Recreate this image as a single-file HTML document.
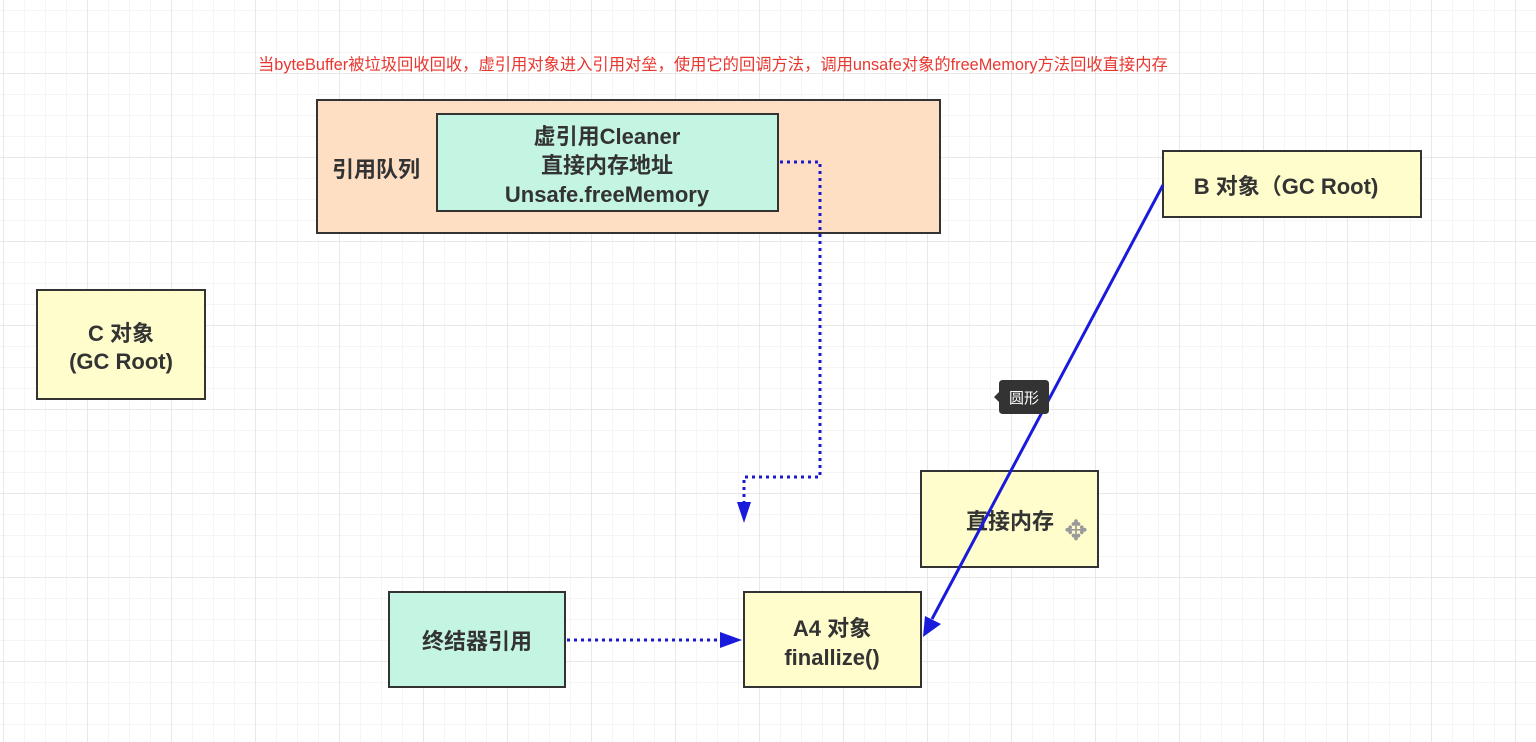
<!DOCTYPE html>
<html><head><meta charset="utf-8"><style>
body{margin:0;width:1536px;height:742px;overflow:hidden;background:#fff;font-family:"Liberation Sans","Noto Sans CJK SC",sans-serif;}
</style></head><body>
<svg width="1536" height="742" xmlns="http://www.w3.org/2000/svg" style="position:absolute;left:0;top:0">
<defs>
<pattern id="mi" x="3" y="10" width="21" height="21" patternUnits="userSpaceOnUse"><path d="M0 0H21M0 0V21" stroke="#ebebeb" stroke-width="1" fill="none"/></pattern>
<pattern id="ma" x="3" y="73" width="84" height="84" patternUnits="userSpaceOnUse"><path d="M0 0H84M0 0V84" stroke="#e0e0e0" stroke-width="1.5" fill="none"/></pattern>
</defs>
<rect width="1536" height="742" fill="url(#mi)"/>
<rect width="1536" height="742" fill="url(#ma)"/>
<g font-family="Liberation Sans, Noto Sans CJK SC, sans-serif">
<text x="258" y="70" font-size="16.3" fill="#e8372f">当byteBuffer被垃圾回收回收，虚引用对象进入引用对垒，使用它的回调方法，调用unsafe对象的freeMemory方法回收直接内存</text>
<rect x="317" y="100" width="623" height="133" fill="#ffdfc4" stroke="#333" stroke-width="2"/>
<text x="376" y="177" font-size="22" font-weight="bold" fill="#333" text-anchor="middle">引用队列</text>
<rect x="437" y="114" width="341" height="97" fill="#c4f5e3" stroke="#333" stroke-width="2"/>
<g font-size="22" font-weight="bold" fill="#333" text-anchor="middle">
<text x="607" y="144">虚引用Cleaner</text>
<text x="607" y="173">直接内存地址</text>
<text x="607" y="202">Unsafe.freeMemory</text>
</g>
<rect x="1163" y="151" width="258" height="66" fill="#fffdcc" stroke="#333" stroke-width="2"/>
<text x="1286" y="194" font-size="22" font-weight="bold" fill="#333" text-anchor="middle">B 对象（GC Root)</text>
<rect x="37" y="290" width="168" height="109" fill="#fffdcc" stroke="#333" stroke-width="2"/>
<text x="121" y="341" font-size="22" font-weight="bold" fill="#333" text-anchor="middle">C 对象</text>
<text x="121" y="369" font-size="22" font-weight="bold" fill="#333" text-anchor="middle">(GC Root)</text>
<rect x="921" y="471" width="177" height="96" fill="#fffdcc" stroke="#333" stroke-width="2"/>
<text x="1010" y="529" font-size="22" font-weight="bold" fill="#333" text-anchor="middle">直接内存</text>
<text x="1076" y="540" font-size="28" fill="#999" text-anchor="middle">✥</text>
<rect x="389" y="592" width="176" height="95" fill="#c4f5e3" stroke="#333" stroke-width="2"/>
<text x="477" y="649" font-size="22" font-weight="bold" fill="#333" text-anchor="middle">终结器引用</text>
<rect x="744" y="592" width="177" height="95" fill="#fffdcc" stroke="#333" stroke-width="2"/>
<text x="832" y="636" font-size="22" font-weight="bold" fill="#333" text-anchor="middle">A4 对象</text>
<text x="832" y="665" font-size="22" font-weight="bold" fill="#333" text-anchor="middle">finallize()</text>
<path d="M780 162H820V477H744V505" stroke="#1a1acc" stroke-width="3" stroke-dasharray="3 4" fill="none"/>
<path d="M737 502L751 502L744 523Z" fill="#1a1adc"/>
<path d="M567 640H722" stroke="#1a1acc" stroke-width="3" stroke-dasharray="3 4" fill="none"/>
<path d="M720 632L742 640L720 648Z" fill="#1a1adc"/>
<path d="M1163 185L932 619" stroke="#1a1adc" stroke-width="3" fill="none"/>
<path d="M925 616L941 624L923 637Z" fill="#1a1adc"/>
<path d="M1003 380H1045Q1049 380 1049 384V410Q1049 414 1045 414H1003Q999 414 999 410V402L994 397L999 392V384Q999 380 1003 380Z" fill="#333"/>
<text x="1024" y="403" font-size="15" fill="#fff" text-anchor="middle">圆形</text>
</g>
</svg>
</body></html>
